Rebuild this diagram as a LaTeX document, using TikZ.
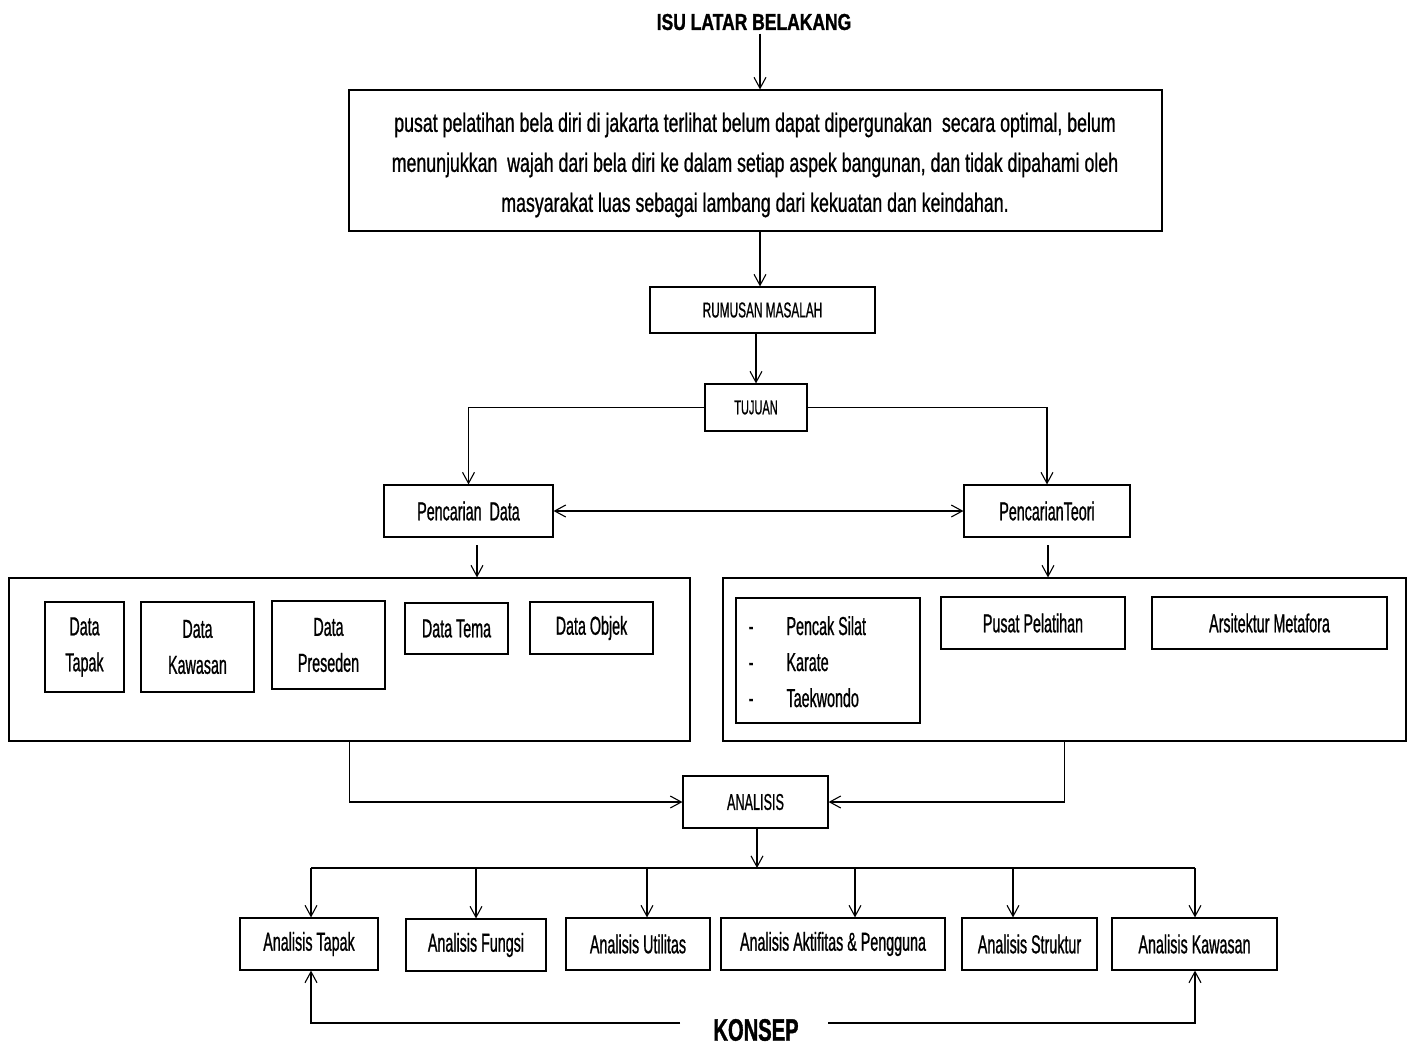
\documentclass[tikz,border=0pt]{standalone}
\usepackage{fontspec}
\setmainfont{Liberation Sans}[FakeStretch=0.56]
\newfontfamily\fmain{Liberation Sans}[FakeStretch=0.67,FakeBold=0.8]
\newfontfamily\fcond{Liberation Sans}[FakeStretch=0.55,FakeBold=0.8]
\newfontfamily\ftitle{Liberation Sans}[FakeStretch=0.76,FakeBold=1.2]
\newfontfamily\fkonsep{Liberation Sans}[FakeStretch=0.65,FakeBold=1.2]
\usetikzlibrary{arrows.meta}
\tikzset{
  box/.style={draw=black, line width=1.2pt, inner sep=0pt, align=center},
  arr/.style={draw=black, line width=1.1pt, -{Straight Barb[length=11pt,width=12pt,line width=1.1pt]}},
  darr/.style={draw=black, line width=1.1pt, {Straight Barb[length=11pt,width=12pt,line width=1.1pt]}-{Straight Barb[length=11pt,width=12pt,line width=1.1pt]}},
  ln/.style={draw=black, line width=1.1pt},
  lbl/.style={font=\fcond\fontsize{26}{36}\selectfont},
  sml/.style={font=\fcond\fontsize{21.5}{24}\selectfont}
}
\begin{document}
\begin{tikzpicture}[x=1pt,y=-1pt]
\fill[white] (0,0) rectangle (1413,1047);
\useasboundingbox (0,0) rectangle (1413,1047);

% top
\node[font=\ftitle\bfseries\fontsize{23}{26}\selectfont] (title) at (754,22) {ISU LATAR BELAKANG};
\node[box, minimum width=813pt, minimum height=141pt] (main) at (755.5,160.5) {};
\node[align=center, inner sep=0pt, font=\fmain\fontsize{26.5}{40}\selectfont] (maintext) at (755,165)
 {pusat pelatihan bela diri di jakarta terlihat belum dapat dipergunakan \ secara optimal, belum\\
  menunjukkan \ wajah dari bela diri ke dalam setiap aspek bangunan, dan tidak dipahami oleh\\
  masyarakat luas sebagai lambang dari kekuatan dan keindahan.};
\node[box, sml, minimum width=225pt, minimum height=46pt] (rumusan) at (762.5,310) {RUMUSAN MASALAH};
\node[box, font=\fcond\fontsize{20}{24}\selectfont, minimum width=102pt, minimum height=47pt] (tujuan) at (756,407.5) {TUJUAN};
\node[box, lbl, minimum width=169pt, minimum height=52pt] (pdata) at (468.5,511) {Pencarian \ Data};
\node[box, lbl, minimum width=166pt, minimum height=52pt] (pteori) at (1047,511) {PencarianTeori};

% big containers
\node[box, minimum width=681pt, minimum height=163pt] (leftbig) at (349.5,659.5) {};
\node[box, minimum width=683pt, minimum height=163pt] (rightbig) at (1064.5,659.5) {};

% left inner
\node[box, lbl, minimum width=79pt, minimum height=90pt] (dtapak) at (84.5,647) {Data\\Tapak};
\node[box, lbl, minimum width=113pt, minimum height=90pt] (dkawasan) at (197.5,647) {Data\\Kawasan};
\node[box, lbl, minimum width=113pt, minimum height=88pt] (dpreseden) at (328.5,645) {Data\\Preseden};
\node[box, lbl, minimum width=103pt, minimum height=51pt] (dtema) at (456.5,628.5) {Data Tema};
\node[box, lbl, minimum width=123pt, minimum height=52pt] (dobjek) at (591.5,628) {Data Objek};

% right inner
\node[box, minimum width=184pt, minimum height=125pt] (list) at (828,660.5) {};
\node[lbl, anchor=base] (dash1) at (751,635) {-};
\node[lbl, anchor=base] (dash2) at (751,671) {-};
\node[lbl, anchor=base] (dash3) at (751,707) {-};
\node[lbl, anchor=base west] (li1) at (783,635) {Pencak Silat};
\node[lbl, anchor=base west] (li2) at (783,671) {Karate};
\node[lbl, anchor=base west] (li3) at (783,707) {Taekwondo};
\node[box, lbl, minimum width=184pt, minimum height=52pt] (pusat) at (1033,623) {Pusat Pelatihan};
\node[box, lbl, minimum width=235pt, minimum height=52pt] (arsi) at (1269.5,623) {Arsitektur Metafora};

% analisis
\node[box, font=\fcond\fontsize{23}{26}\selectfont, minimum width=145pt, minimum height=52pt] (analisis) at (755.5,802) {ANALISIS};

\node[box, lbl, minimum width=138pt, minimum height=52pt] (atapak) at (309,944) {Analisis Tapak};
\node[box, lbl, minimum width=140pt, minimum height=52pt] (afungsi) at (476,945) {Analisis Fungsi};
\node[box, lbl, minimum width=144pt, minimum height=52pt] (autil) at (638,944) {Analisis Utilitas};
\node[box, lbl, minimum width=224pt, minimum height=52pt] (aaktif) at (833,944) {Analisis Aktifitas \& Pengguna};
\node[box, lbl, minimum width=135pt, minimum height=52pt] (astruk) at (1029.5,944) {Analisis Struktur};
\node[box, lbl, minimum width=165pt, minimum height=52pt] (akaws) at (1194.5,944) {Analisis Kawasan};

\node[font=\fkonsep\bfseries\fontsize{31}{34}\selectfont] (konsep) at (756,1030) {KONSEP};

% connectors
\coordinate (c1) at (760,0);
\draw[arr] (title.south -| c1) -- (main.north -| c1);
\draw[arr] (main.south -| c1) -- (rumusan.north -| c1);
\draw[arr] (rumusan.south -| tujuan.north) -- (tujuan.north);
\draw[arr] (tujuan.west) -| (pdata.north);
\draw[arr] (tujuan.east) -| (pteori.north);
\draw[darr] (pdata.east) -- (pteori.west);
\coordinate (pd1) at (477,545);
\coordinate (pt1) at (1048,545);
\draw[arr] (pd1) -- (pd1 |- leftbig.north);
\draw[arr] (pt1) -- (pt1 |- rightbig.north);
\draw[arr] (leftbig.south) |- (analisis.west);
\draw[arr] (rightbig.south) |- (analisis.east);

\coordinate (bar) at (757,868);
\draw[arr] (bar |- analisis.south) -- (bar);
\coordinate (d1) at (311,868);
\coordinate (d2) at (476,868);
\coordinate (d3) at (647,868);
\coordinate (d4) at (855,868);
\coordinate (d5) at (1013,868);
\coordinate (d6) at (1195,868);
\draw[ln] (d1) -- (d6);
\draw[arr] (d1) -- (d1 |- atapak.north);
\draw[arr] (d2) -- (d2 |- afungsi.north);
\draw[arr] (d3) -- (d3 |- autil.north);
\draw[arr] (d4) -- (d4 |- aaktif.north);
\draw[arr] (d5) -- (d5 |- astruk.north);
\draw[arr] (d6) -- (d6 |- akaws.north);

\coordinate (k1) at (680,1023);
\coordinate (k2) at (828,1023);
\draw[arr] (k1) -| (d1 |- atapak.south);
\draw[arr] (k2) -| (d6 |- akaws.south);
\end{tikzpicture}
\end{document}
